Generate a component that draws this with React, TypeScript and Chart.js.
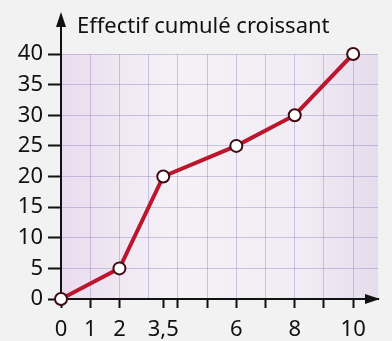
import React, { useEffect, useRef } from "react";
import { Chart, registerables } from "chart.js";

Chart.register(...registerables);

const xValues = [0, 2, 3.5, 6, 8, 10];
const cumulative = [0, 5, 20, 25, 30, 40];
const xTickValues = [0, 1, 2, 3, 3.5, 4, 5, 6, 7, 8, 9, 10];
const xLabels: Record<string, string> = { "0": "0", "1": "1", "2": "2", "3.5": "3,5", "6": "6", "8": "8", "10": "10" };
const yTitle = "Effectif cumulé croissant";

const FONT = "'Noto Sans', sans-serif";
const GRID = "rgba(140,130,195,0.42)";

const decor = {
  id: "decor",
  beforeDraw(chart: any) {
    const { ctx, chartArea: a, width, height } = chart;
    ctx.save();
    ctx.fillStyle = "#f3f2f3";
    ctx.fillRect(0, 0, width, height);
    const g = ctx.createLinearGradient(a.left, 0, a.right, 0);
    g.addColorStop(0, "#eadcee");
    g.addColorStop(0.35, "#f5f1f6");
    g.addColorStop(0.75, "#f2edf4");
    g.addColorStop(1, "#e5dbec");
    ctx.fillStyle = g;
    ctx.fillRect(a.left, a.top, a.right - a.left, a.bottom - a.top);
    ctx.restore();
  },
  afterDraw(chart: any) {
    const { ctx, chartArea: a } = chart;
    ctx.save();
    ctx.strokeStyle = "#111";
    ctx.fillStyle = "#111";
    ctx.lineWidth = 2;
    ctx.beginPath();
    ctx.moveTo(a.left, a.top);
    ctx.lineTo(a.left, 24);
    ctx.stroke();
    ctx.beginPath();
    ctx.moveTo(a.left, 12);
    ctx.lineTo(a.left - 5, 27);
    ctx.lineTo(a.left + 5, 27);
    ctx.closePath();
    ctx.fill();
    ctx.beginPath();
    ctx.moveTo(a.right + 2, a.bottom);
    ctx.lineTo(a.right - 13, a.bottom - 5);
    ctx.lineTo(a.right - 13, a.bottom + 5);
    ctx.closePath();
    ctx.fill();
    ctx.font = `22px ${FONT}`;
    ctx.textBaseline = "alphabetic";
    ctx.textAlign = "left";
    ctx.fillText(yTitle, 77, 33);
    ctx.restore();
  },
};

export default function App() {
  const ref = useRef<HTMLCanvasElement>(null);
  useEffect(() => {
    if (!ref.current) return;
    const chart = new Chart(ref.current, {
      type: "line",
      data: {
        datasets: [
          {
            data: xValues.map((x, i) => ({ x, y: cumulative[i] })),
            borderColor: "#bc162f",
            borderWidth: 4,
            pointRadius: 6,
            pointBorderWidth: 2,
            pointBorderColor: "#3f0a12",
            pointBackgroundColor: "#ffffff",
            clip: false as any,
            tension: 0,
          },
        ],
      },
      options: {
        animation: false,
        responsive: true,
        maintainAspectRatio: false,
        layout: { padding: { top: 54, right: 14, left: 0, bottom: 0 } },
        plugins: { legend: { display: false }, tooltip: { enabled: false } },
        scales: {
          x: {
            type: "linear",
            min: 0,
            max: 10.85,
            afterBuildTicks: (scale: any) => {
              scale.ticks = xTickValues.map((v) => ({ value: v }));
            },
            afterFit: (scale: any) => {
              scale.height = 42;
            },
            ticks: {
              autoSkip: false,
              maxRotation: 0,
              padding: 9,
              color: "#111",
              font: { size: 22, family: FONT },
              callback: (v: any) => xLabels[String(v)] ?? "",
            },
            grid: {
              color: (c: any) =>
                c.tick && (c.tick.value === 3.5 || c.tick.value === 0) ? "rgba(0,0,0,0)" : GRID,
              tickColor: (c: any) => (c.tick && c.tick.value === 3 ? "rgba(0,0,0,0)" : "#111"),
              tickLength: 9,
              tickWidth: 2,
              lineWidth: 1,
            },
            border: { color: "#111", width: 2 },
          },
          y: {
            min: 0,
            max: 40,
            afterFit: (scale: any) => {
              scale.width = 61;
            },
            ticks: {
              stepSize: 5,
              padding: 5,
              color: "#111",
              font: { size: 22, family: FONT },
            },
            grid: {
              color: (c: any) => (c.tick && c.tick.value === 0 ? "rgba(0,0,0,0)" : GRID),
              tickColor: "#111",
              tickLength: 13,
              tickWidth: 2,
              lineWidth: 1,
            },
            border: { color: "#111", width: 2 },
          },
        },
      },
      plugins: [decor],
    });
    return () => chart.destroy();
  }, []);
  return (
    <div style={{ position: "fixed", left: 0, top: 0, width: 392, height: 341 }}>
      <canvas ref={ref} />
    </div>
  );
}
